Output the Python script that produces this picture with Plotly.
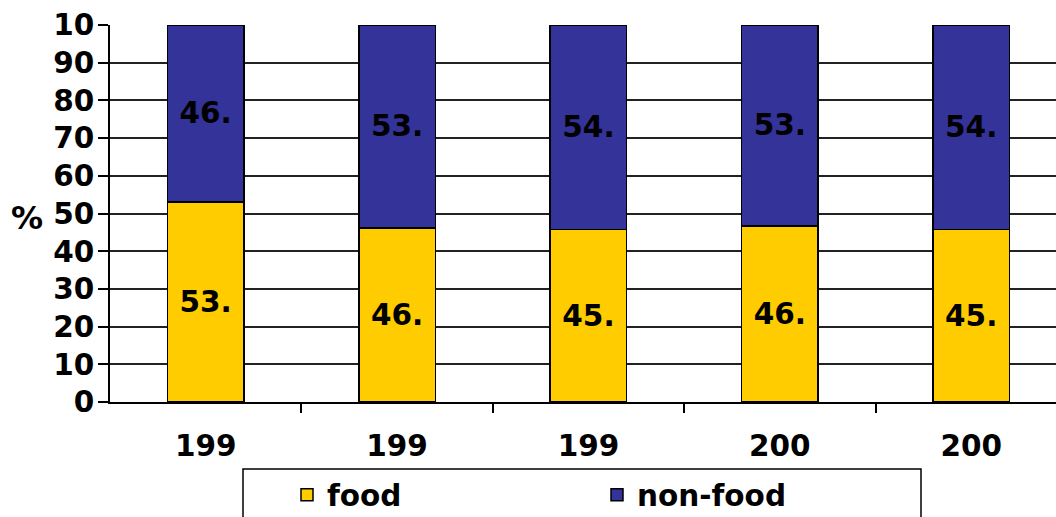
import plotly.graph_objects as go

years = ["199", "199", "199", "200", "200"]
food = [53.1, 46.2, 45.7, 46.7, 45.7]
non_food = [46.9, 53.8, 54.3, 53.3, 54.3]
y_ticks = [0, 10, 20, 30, 40, 50, 60, 70, 80, 90, 100]
y_tick_text = ["0", "10", "20", "30", "40", "50", "60", "70", "80", "90", "10"]

x = list(range(len(years)))
FONT = "DejaVu Sans"
fnt = dict(family=FONT, size=29.5, color="black", weight="bold")

def trunc(vals):
    return [f"{int(v)}." for v in vals]

fig = go.Figure()
fig.add_trace(go.Bar(x=x, y=food, name="food", marker=dict(color="#FFCC00", line=dict(color="black", width=1.5)),
                     text=trunc(food), textposition="inside", insidetextanchor="middle",
                     textfont=fnt, constraintext="none", width=0.4))
fig.add_trace(go.Bar(x=x, y=non_food, name="non-food", marker=dict(color="#333399", line=dict(color="black", width=1.5)),
                     text=trunc(non_food), textposition="inside", insidetextanchor="middle",
                     textfont=fnt, constraintext="none", width=0.4))

PAPER_H = 517 - 25 - 115
PAPER_W = 1056 - 110

def px_x(p):
    return (p - 110) / PAPER_W

def px_y(p):
    return (402 - p) / PAPER_H

fig.update_layout(
    barmode="stack",
    width=1056, height=517,
    margin=dict(l=110, r=0, t=25, b=115, autoexpand=False),
    plot_bgcolor="white", paper_bgcolor="white",
    font=fnt,
    showlegend=True,
    legend=dict(orientation="h", x=px_x(247), y=px_y(469), xanchor="left", yanchor="top",
                borderwidth=0, font=fnt,
                entrywidth=225, entrywidthmode="pixels", indentation=40,
                itemwidth=30, traceorder="normal", bgcolor="rgba(0,0,0,0)"),
    xaxis=dict(range=[-0.5, 4.443], tickmode="array", tickvals=x, ticktext=years,
               ticks="", showgrid=False, showline=True, linecolor="black", linewidth=1.5,
               tickfont=fnt, ticklabelstandoff=17, zeroline=False,
               minor=dict(tickmode="array", tickvals=[0.5, 1.5, 2.5, 3.5], ticks="outside",
                          ticklen=9, tickwidth=1.5, tickcolor="black", showgrid=False)),
    yaxis=dict(range=[0, 100], tickmode="array", tickvals=y_ticks, ticktext=y_tick_text,
               ticks="outside", ticklen=10, tickwidth=1.5, tickcolor="black",
               showgrid=True, gridcolor="#222222", gridwidth=1.8,
               showline=True, linecolor="black", linewidth=1.5, tickfont=fnt,
               ticklabelstandoff=-2, zeroline=False),
    annotations=[dict(text="%", xref="paper", yref="paper", x=px_x(27), y=px_y(218),
                      xanchor="center", yanchor="middle", showarrow=False,
                      font=dict(family=FONT, size=32, color="black", weight="bold"))],
    shapes=[dict(type="rect", xref="paper", yref="paper", x0=px_x(243), x1=px_x(921),
                 y0=px_y(469), y1=px_y(540), line=dict(color="black", width=1.5),
                 fillcolor="rgba(0,0,0,0)", layer="above")],
)

fig.write_html("out.html")
